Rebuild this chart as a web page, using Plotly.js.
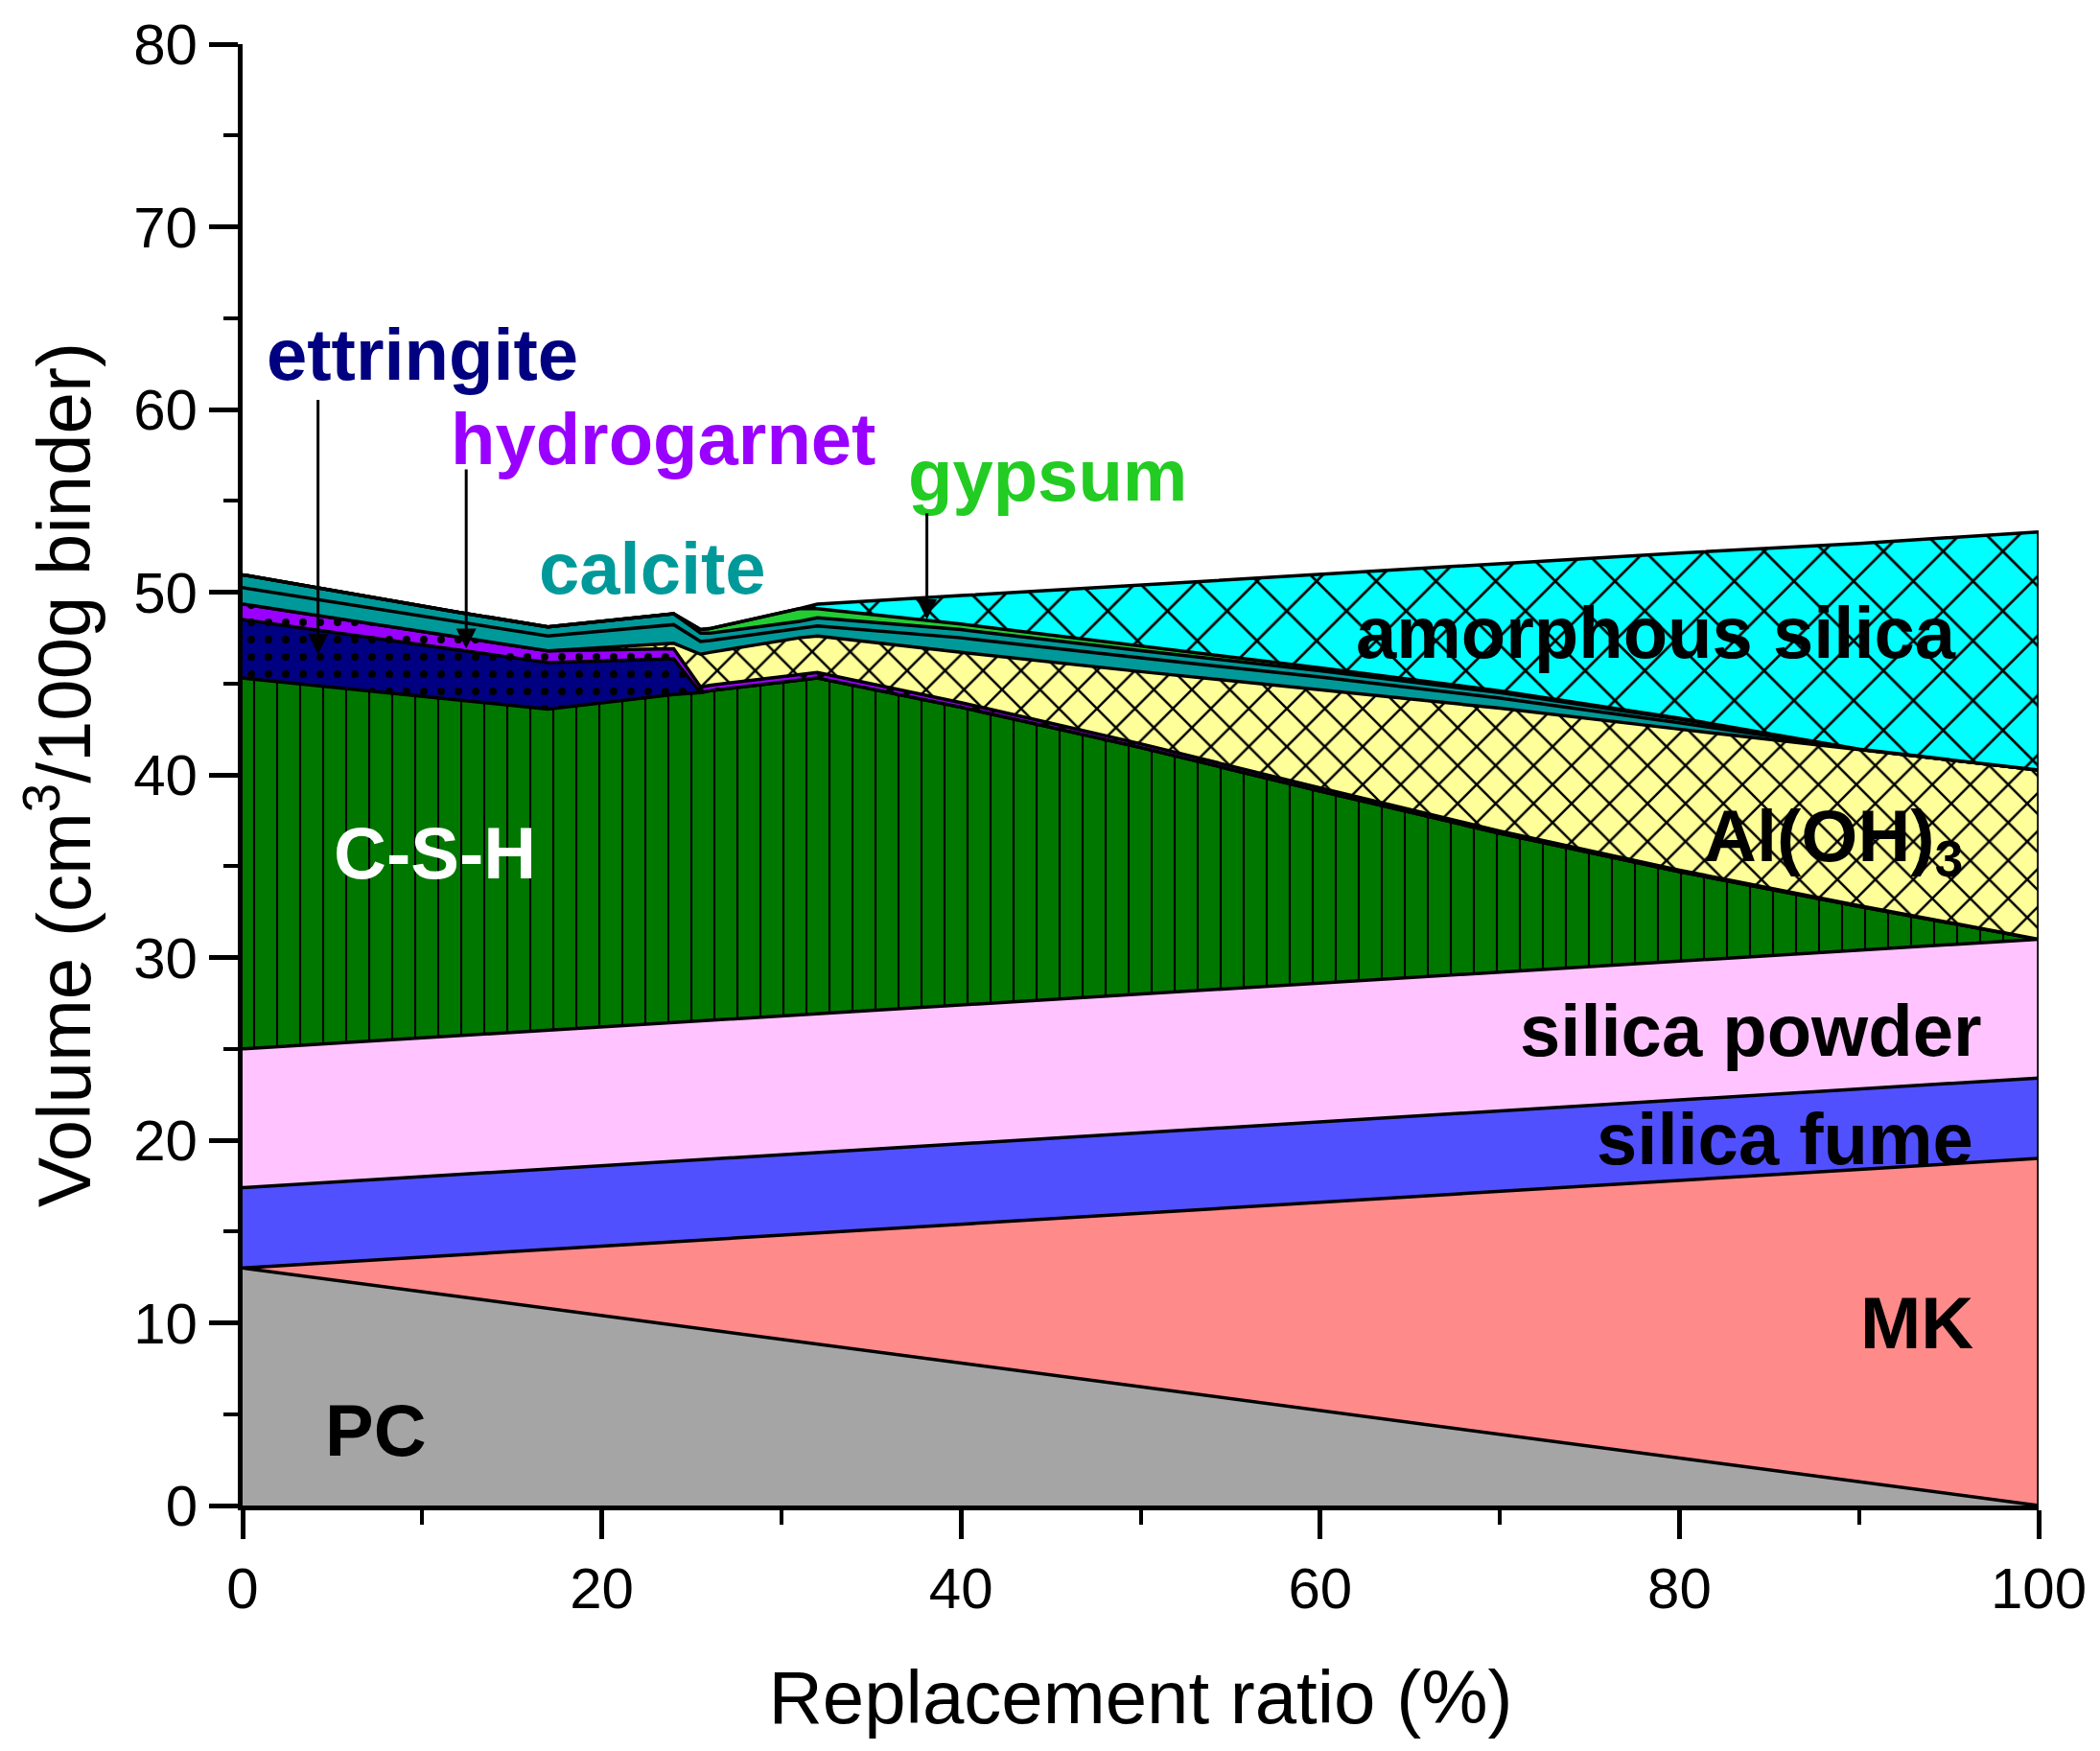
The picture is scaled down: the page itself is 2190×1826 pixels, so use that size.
<!DOCTYPE html>
<html>
<head>
<meta charset="utf-8">
<script src="https://cdn.plot.ly/plotly-3.0.1.min.js"></script>
<style>
  html, body { margin: 0; padding: 0; background: #fff; }
  #chart { width: 2190px; height: 1826px; }
</style>
</head>
<body>
<div id="chart"></div>
<script>
// phase volumes vs replacement ratio, stacked from bottom up

const ratio = [0, 4, 8, 12, 17, 24, 25.5, 26, 31, 32, 40, 50, 60, 70, 80, 90, 100];

const pc           = [13, 12.48, 11.96, 11.44, 10.79, 9.88, 9.69, 9.62, 8.97, 8.84, 7.8, 6.5, 5.2, 3.9, 2.6, 1.3, 0];
const mk           = [0, 0.76, 1.52, 2.28, 3.23, 4.56, 4.84, 4.94, 5.89, 6.08, 7.6, 9.5, 11.4, 13.3, 15.2, 17.1, 19.0];
const silicaFume   = [4.4, 4.4, 4.4, 4.4, 4.4, 4.4, 4.4, 4.4, 4.4, 4.4, 4.4, 4.4, 4.4, 4.4, 4.4, 4.4, 4.4];
const silicaPowder = [7.6, 7.6, 7.6, 7.6, 7.6, 7.6, 7.6, 7.6, 7.6, 7.6, 7.6, 7.6, 7.6, 7.6, 7.6, 7.6, 7.6];
const csh          = [20.3, 19.66, 19.02, 18.38, 17.58, 17.96, 17.97, 18.04, 18.34, 18.38, 16.3, 13.5, 10.5, 7.6, 4.9, 2.4, 0];
const ettringite   = [3.2, 3.05, 2.9, 2.74, 2.54, 1.95, 0, 0, 0, 0, 0, 0, 0, 0, 0, 0, 0];
const hydrogarnet  = [0.85, 0.8, 0.75, 0.7, 0.65, 0.55, 0.3, 0.3, 0.3, 0.3, 0.25, 0.2, 0.18, 0.12, 0.08, 0.04, 0];
const alOH3        = [0, 0, 0, 0, 0, 0.3, 1.8, 1.8, 2.0, 2.0, 2.75, 3.95, 5.37, 6.73, 7.72, 8.56, 9.26];
const calcite      = [0.9, 0.87, 0.83, 0.81, 0.81, 1.02, 0.7, 0.65, 0.5, 0.55, 0.8, 0.75, 0.7, 0.55, 0.35, 0, 0];
const calciteUpper = [0.7, 0.65, 0.6, 0.55, 0.5, 0.6, 0.45, 0.4, 0.4, 0.45, 0.45, 0.4, 0.35, 0.3, 0.2, 0, 0];
const gypsum       = [0, 0, 0, 0, 0, 0, 0.2, 0.25, 0.7, 0.5, 0.3, 0.25, 0.15, 0.1, 0.05, 0, 0];
const amorphSilica = [0, 0, 0, 0, 0, 0, 0, 0, 0, 0.25, 1.56, 3.35, 5.13, 6.96, 9.04, 11.27, 13.04];

const xTicks = [0, 20, 40, 60, 80, 100];
const yTicks = [0, 10, 20, 30, 40, 50, 60, 70, 80];

const FONT = "Liberation Sans, Arial, Helvetica, sans-serif";

function layer(name, values, color, pattern) {
    const t = {
        name: name,
        x: ratio,
        y: values,
        stackgroup: "phases",
        mode: "lines",
        line: { color: "#000", width: 3.5 },
        fillcolor: color,
        hoverinfo: "skip",
        showlegend: false
    };
    if (pattern) {
        t.fillpattern = Object.assign({ bgcolor: color, fgcolor: "#000", fillmode: "replace" }, pattern);
    }
    return t;
}

const traces = [
    layer("PC", pc, "#A5A5A5"),
    layer("MK", mk, "#FF8A8A"),
    layer("silica fume", silicaFume, "#5050FF"),
    layer("silica powder", silicaPowder, "#FFC4FF"),
    layer("C-S-H", csh, "#007800", { shape: "|", size: 24, solidity: 0.09 }),
    layer("ettringite", ettringite, "#000080", { shape: ".", size: 18, solidity: 0.15 }),
    layer("hydrogarnet", hydrogarnet, "#9900FF", { shape: ".", size: 18, solidity: 0.15 }),
    layer("Al(OH)3", alOH3, "#FFFF99", { shape: "x", size: 28, solidity: 0.17 }),
    layer("calcite", calcite, "#009999"),
    layer("calcite (upper)", calciteUpper, "#009999"),
    layer("gypsum", gypsum, "#22CC33"),
    layer("amorphous silica", amorphSilica, "#00FFFF", { shape: "x", size: 44, solidity: 0.12 })
];

// total height at the right edge, for the closing vertical border
const last = ratio.length - 1;
const allLayers = [pc, mk, silicaFume, silicaPowder, csh, ettringite, hydrogarnet, alOH3, calcite, calciteUpper, gypsum, amorphSilica];
const rightTop = allLayers.reduce((s, a) => s + a[last], 0);

function label(text, x, y, color) {
    return {
        text: "<b>" + text + "</b>",
        x: x, y: y, xref: "x", yref: "y",
        showarrow: false,
        xanchor: "center", yanchor: "middle",
        font: { family: FONT, size: 76, color: color }
    };
}

function pointer(xv, yFrom, yTo) {
    return {
        text: "",
        x: xv, y: yTo, ax: xv, ay: yFrom,
        xref: "x", yref: "y", axref: "x", ayref: "y",
        showarrow: true,
        arrowhead: 2, arrowsize: 1.4, arrowwidth: 3, arrowcolor: "#000"
    };
}

const annotations = [
    label("ettringite", 10.0, 63.0, "#000080"),
    label("hydrogarnet", 23.4, 58.4, "#9900FF"),
    label("calcite", 22.8, 51.3, "#009999"),
    label("gypsum", 44.8, 56.4, "#22CC22"),
    label("amorphous silica", 78.7, 47.8, "#000"),
    label("Al(OH)<sub>3</sub>", 88.6, 36.4, "#000"),
    label("silica powder", 84.0, 26.0, "#000"),
    label("silica fume", 85.9, 20.1, "#000"),
    label("MK", 93.2, 10.0, "#000"),
    label("PC", 7.4, 4.1, "#000"),
    label("C-S-H", 10.7, 35.7, "#FFFFFF"),
    pointer(4.2, 60.6, 46.6),
    pointer(12.45, 56.8, 46.9),
    pointer(38.1, 54.4, 48.5)
];

const layout = {
    width: 2190,
    height: 1826,
    margin: { l: 253, r: 64, t: 46, b: 256 },
    paper_bgcolor: "#fff",
    plot_bgcolor: "#fff",
    font: { family: FONT, color: "#000" },
    showlegend: false,
    xaxis: {
        range: [0, 100],
        tickvals: xTicks,
        ticks: "outside", ticklen: 30, tickwidth: 5, tickcolor: "#000",
        minor: { dtick: 10, tick0: 0, ticks: "outside", ticklen: 15, tickwidth: 4, tickcolor: "#000" },
        showline: true, linewidth: 5, linecolor: "#000",
        showgrid: false, zeroline: false,
        tickfont: { size: 60, family: FONT },
        title: { text: "Replacement ratio (%)", font: { size: 78, family: FONT }, standoff: 55 },
        automargin: false
    },
    yaxis: {
        range: [0, 80],
        tickvals: yTicks,
        ticks: "outside", ticklen: 30, tickwidth: 5, tickcolor: "#000",
        minor: { dtick: 5, tick0: 0, ticks: "outside", ticklen: 15, tickwidth: 4, tickcolor: "#000" },
        showline: true, linewidth: 5, linecolor: "#000",
        showgrid: false, zeroline: false,
        tickfont: { size: 60, family: FONT },
        title: { text: "Volume (cm<sup>3</sup>/100g binder)", font: { size: 78, family: FONT }, standoff: 20 },
        automargin: false
    },
    shapes: [
        {
            type: "line", xref: "x", yref: "y",
            x0: ratio[last], x1: ratio[last], y0: 0, y1: rightTop,
            line: { color: "#000", width: 3.5 }
        }
    ],
    annotations: annotations
};

Plotly.newPlot("chart", traces, layout, { displayModeBar: false, staticPlot: true });
</script>
</body>
</html>
